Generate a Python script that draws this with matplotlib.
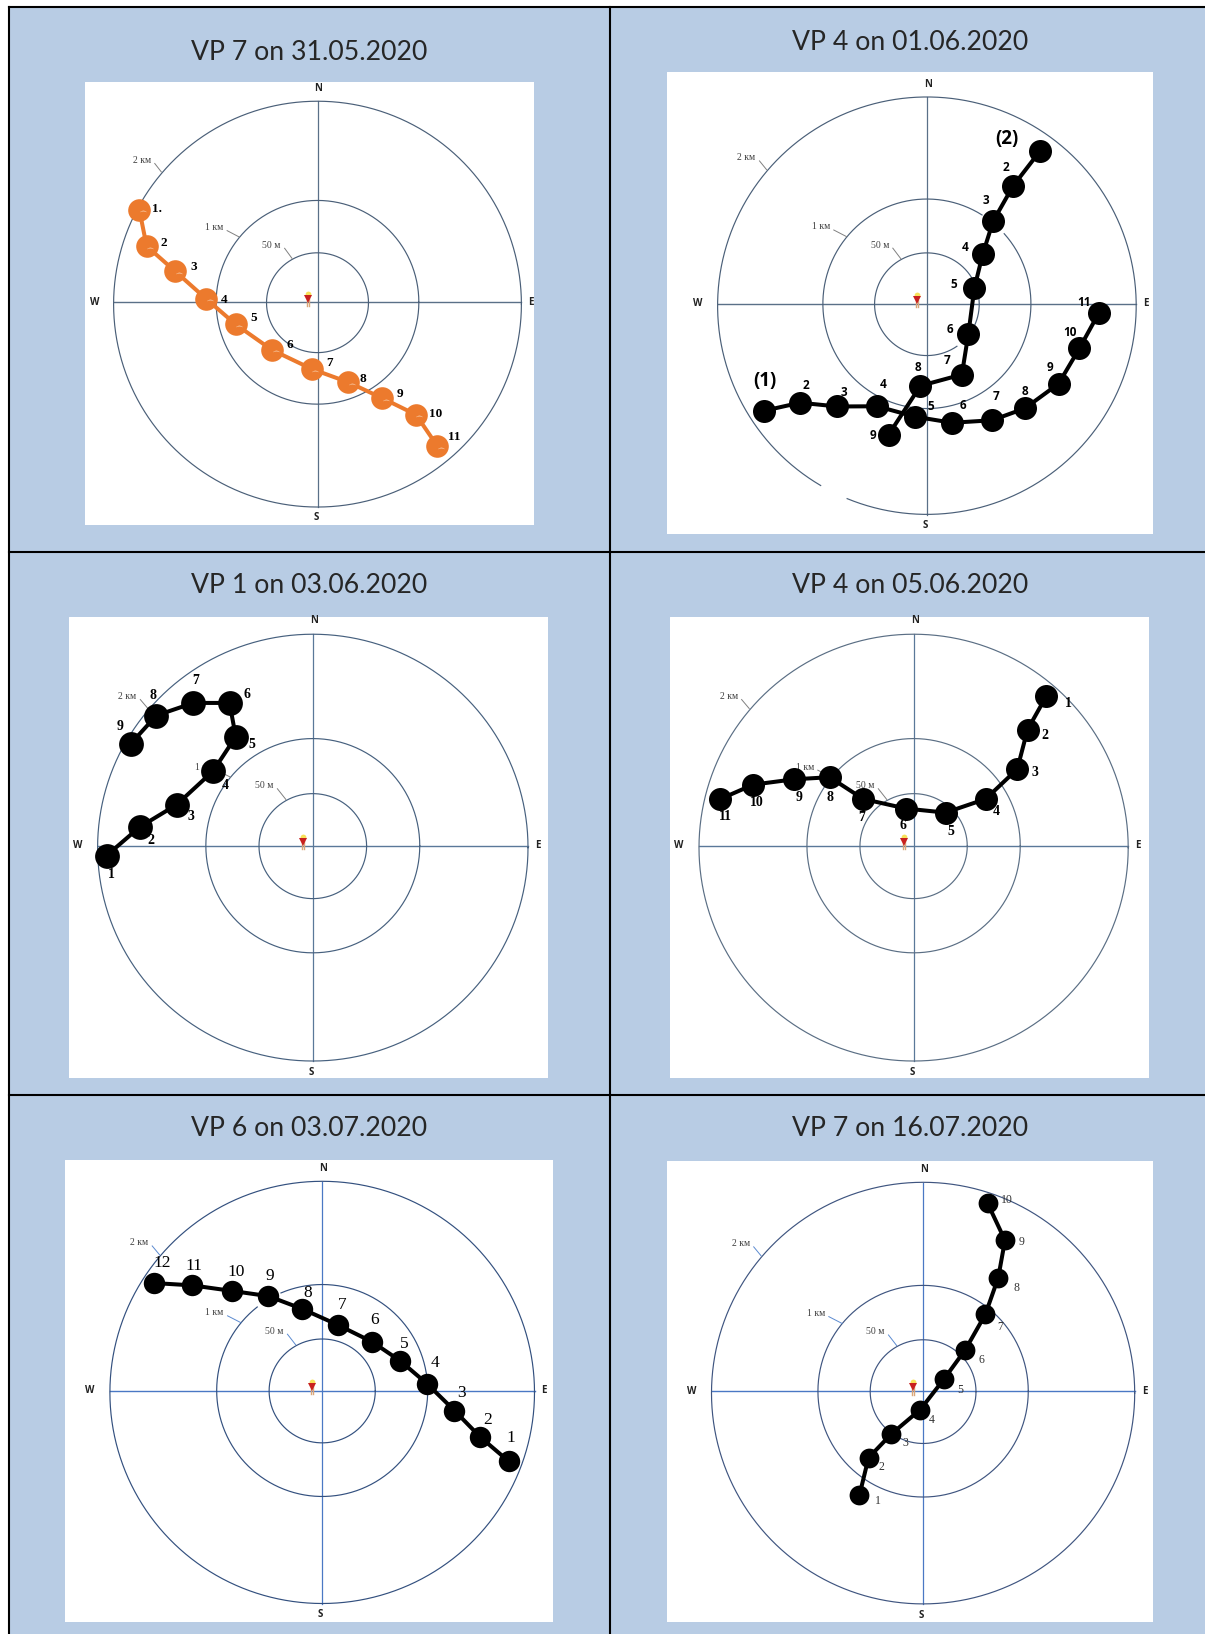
import numpy as np
import matplotlib.pyplot as plt
from matplotlib.patches import Rectangle
from matplotlib.lines import Line2D

W, H = 1205, 1634
BLUE = '#B8CCE4'
ORANGE = '#EC7A2D'

# Track positions, 2 km ring = 1, x to the east, y to the north
p1_x = [-0.874, -0.838, -0.697, -0.546, -0.401, -0.223, -0.027, 0.151, 0.317, 0.483, 0.588]
p1_y = [0.457, 0.277, 0.152, 0.017, -0.109, -0.235, -0.329, -0.394, -0.472, -0.554, -0.709]
p1_labels = ['1.', '2', '3', '4', '5', '6', '7', '8', '9', '10', '11']

p2a_x = [-0.780, -0.606, -0.428, -0.238, -0.056, 0.120, 0.312, 0.468, 0.629, 0.729, 0.821]
p2a_y = [-0.513, -0.474, -0.492, -0.491, -0.541, -0.570, -0.558, -0.501, -0.383, -0.213, -0.045]
p2a_labels = ['(1)', '2', '3', '4', '5', '6', '7', '8', '9', '10', '11']
p2b_x = [0.542, 0.412, 0.317, 0.267, 0.227, 0.198, 0.167, -0.031, -0.183]
p2b_y = [0.734, 0.565, 0.397, 0.239, 0.076, -0.145, -0.339, -0.393, -0.627]
p2b_labels = ['(2)', '2', '3', '4', '5', '6', '7', '8', '9']

p3_x = [-0.958, -0.805, -0.633, -0.463, -0.358, -0.387, -0.555, -0.727, -0.846]
p3_y = [-0.046, 0.087, 0.192, 0.350, 0.511, 0.669, 0.669, 0.610, 0.478]
p3_labels = ['1', '2', '3', '4', '5', '6', '7', '8', '9']

p4_x = [0.619, 0.531, 0.483, 0.336, 0.149, -0.035, -0.235, -0.391, -0.559, -0.748, -0.900]
p4_y = [0.702, 0.544, 0.359, 0.219, 0.155, 0.174, 0.219, 0.321, 0.311, 0.286, 0.219]
p4_labels = ['1', '2', '3', '4', '5', '6', '7', '8', '9', '10', '11']

p5_x = [0.878, 0.744, 0.623, 0.495, 0.368, 0.236, 0.073, -0.093, -0.253, -0.427, -0.612, -0.792]
p5_y = [-0.335, -0.220, -0.095, 0.031, 0.140, 0.230, 0.311, 0.386, 0.447, 0.472, 0.498, 0.509]
p5_labels = ['1', '2', '3', '4', '5', '6', '7', '8', '9', '10', '11', '12']

p6_x = [-0.301, -0.258, -0.151, -0.013, 0.099, 0.199, 0.294, 0.355, 0.387, 0.305]
p6_y = [-0.494, -0.316, -0.204, -0.087, 0.058, 0.196, 0.364, 0.538, 0.716, 0.891]
p6_labels = ['1', '2', '3', '4', '5', '6', '7', '8', '9', '10']

titles = ['VP 7 on 31.05.2020', 'VP 4 on 01.06.2020', 'VP 1 on 03.06.2020',
          'VP 4 on 05.06.2020', 'VP 6 on 03.07.2020', 'VP 7 on 16.07.2020']
ring_names = ['2 км', '1 км', '50 м']

# label offsets from the marker, pixels
p1_off = [(17.5, 0.4), (17.5, 3), (18.7, 4.6), (18.3, -1), (17.5, 6), (18, 5), (18, 6.3), (15, 3.5), (17.5, 3.9), (20, 0.7), (17, 8.8)]
p2a_off = [(0.8, 29.8), (6, 17.5), (7, 14.4), (6, 21.7), (15.6, 9.8), (11.4, 16.8), (3.4, 23.5), (-0.4, 16.5), (-9, 16.5), (-10, 16), (-15, 11)]
p2b_off = [(-33.4, 12), (-7, 18), (-7, 20), (-18, 6.7), (-20.5, 3), (-18.6, 5), (-15, 14.4), (-2.7, 18.6), (-15.6, -0.4)]
p3_off = [(5, -19), (11, -13.3), (14.4, -12), (12.5, -14), (16, -7.4), (17, 8.8), (2, 22), (-3, 19.6), (-10.5, 17.5)]
p4_off = [(22.4, -7.4), (17, -6.3), (18, -3), (10.6, -12.6), (5, -19), (-2.7, -16.8), (-1, -19), (0.8, -20), (5, -18), (3.8, -17.5), (4.6, -18)]
p5_off = [(2.3, 23), (7.4, 17.3), (7.4, 17.7), (7.4, 20.8), (4.3, 16.7), (2, 21.9), (4.7, 19.4), (5.4, 16.3), (1.6, 19.8), (5, 18.7), (2, 19.4), (8.6, 19.8)]
p6_off = [(18.6, -5.9), (13.3, -8.7), (14, -8.7), (11.8, -10.8), (16, -11.5), (16.7, -10), (14.8, -12.8), (18.2, -10), (16.7, -2), (19.7, 3.1)]

# white box (left, top, right, bottom), centre, outer radius in x and y, title position: all pixels
panels = [
    dict(box=(85, 82, 534, 525), c=(317.5, 302.3), r=(203.9, 202.9), t=(309, 52),
         tracks=[(p1_x, p1_y, p1_labels, p1_off)], color=ORANGE, ms=11.3, axis='#5A7088', ring='#4A5F78',
         lead='#808080', font=dict(family='Liberation Serif', weight='bold', size=9.5), gaps={}),
    dict(box=(667, 72, 1153, 534), c=(926.9, 303.8), r=(209.3, 208.7), t=(910, 42),
         tracks=[(p2a_x, p2a_y, p2a_labels, p2a_off), (p2b_x, p2b_y, p2b_labels, p2b_off)],
         color='black', ms=11.5, axis='#5A7088', ring='#4A5F78', lead='#808080',
         font=dict(family='Open Sans', weight='bold', size=8.5),
         gaps={0: (239.5, 247.6), 1: (42, 58), 2: (-55, -37)}),
    dict(box=(69, 617, 548, 1077.5), c=(312.8, 845.7), r=(215.2, 213.4), t=(309, 585),
         tracks=[(p3_x, p3_y, p3_labels, p3_off)], color='black', ms=12.4, axis='#5A7899', ring='#46607E',
         lead='#808080', font=dict(family='Liberation Serif', weight='bold', size=10), gaps={}),
    dict(box=(670, 617, 1149, 1077.5), c=(913.6, 845.7), r=(214.6, 213.4), t=(910, 585),
         tracks=[(p4_x, p4_y, p4_labels, p4_off)], color='black', ms=11.5, axis='#5A7899', ring='#5A6E84',
         lead='#808080', font=dict(family='Liberation Serif', weight='bold', size=10), gaps={}),
    dict(box=(65, 1160, 553, 1622), c=(322.2, 1390.5), r=(212.3, 211.1), t=(309, 1129),
         tracks=[(p5_x, p5_y, p5_labels, p5_off)], color='black', ms=10.7, axis='#4A78C4', ring='#33507F',
         lead='#5B8AD0', font=dict(family='Liberation Serif', weight='normal', size=12.5),
         gaps={1: (113, 128)}),
    dict(box=(667, 1161, 1153, 1622), c=(923.1, 1391.2), r=(211.6, 210.8), t=(910, 1129),
         tracks=[(p6_x, p6_y, p6_labels, p6_off)], color='black', ms=9.9, axis='#4A78C4', ring='#3F5580',
         lead='#5B8AD0', font=dict(family='Liberation Serif', weight='normal', size=8.5, color='#333333'),
         gaps={}),
]


def ring_line(ax, r_x, r_y, y0, color, gap=None):
    # one ring, left open where the source image has it erased
    start = gap[1] if gap else 0
    end = gap[0] + 360 if gap else 360
    th = np.radians(np.linspace(start, end, 361))
    ax.plot(r_x * np.cos(th), y0 + r_y * np.sin(th), color=color, lw=0.85, zorder=2)


def draw_panel(p):
    left, top, right, bottom = p['box']
    ax = fig.add_axes([left / W, 1 - bottom / H, (right - left) / W, (bottom - top) / H])
    cx, cy = p['c']
    rx, ry = p['r']
    ax.set_xlim((left - cx) / rx, (right - cx) / rx)
    ax.set_ylim((cy - bottom) / ry, (cy - top) / ry)
    ax.axis('off')
    ax.add_patch(Rectangle((0, 0), 1, 1, transform=ax.transAxes, color='white', zorder=0))

    ax.plot([-1, 1], [0, 0], color=p['axis'], lw=1.0, zorder=1)
    ax.plot([0, 0], [0.99, -1.01], color=p['axis'], lw=0.9, zorder=1)

    ring_line(ax, 1, 1, -0.009, p['ring'], p['gaps'].get(0))
    ring_line(ax, 0.497, 0.502, 0, p['ring'], p['gaps'].get(1))
    ring_line(ax, 0.25, 0.246, -0.002, p['ring'], p['gaps'].get(2))

    # ring names and their short leader lines
    for name, lx, ly, rad, ang in zip(ring_names, [-0.862, -0.507, -0.225], [0.699, 0.368, 0.281],
                                      [1, 0.5, 0.25], [140, 140, 120]):
        ax.text(lx, ly, name, family='Liberation Serif', fontsize=7, color='#404040',
                ha='center', va='center', zorder=3)
        ax.plot([lx + 13 / rx, rad * np.cos(np.radians(ang))], [ly - 3 / ry, rad * np.sin(np.radians(ang))],
                color=p['lead'], lw=0.7, zorder=3)

    # compass letters
    for name, x, y in [('N', 0.005, 1.053), ('S', -0.007, -1.062), ('W', -1.093, 0), ('E', 1.046, 0)]:
        ax.text(x, y, name, family='Open Sans', weight='bold', fontsize=7, color='#222222',
                ha='center', va='center', zorder=3)

    # observer figure
    ax.plot([-0.051, -0.051], [-0.016, 0.02], color='#D9A679', lw=1, zorder=3)
    ax.plot([-0.041, -0.041], [-0.016, 0.02], color='#D9A679', lw=1, zorder=3)
    ax.plot(-0.046, 0.042, 'o', color='#F7E15A', ms=4.2, mew=0, zorder=4)
    ax.plot(-0.046, 0.018, 'v', color='#C8201E', ms=6, mew=0, zorder=4)

    # tracks on top of everything
    for xs, ys, labels, offs in p['tracks']:
        ax.plot(xs, ys, '-', color=p['color'], lw=2.9, zorder=5, solid_capstyle='round')
        ax.plot(xs, ys, 'o', color=p['color'], ms=p['ms'] * 2 * 0.72, mew=0, zorder=6)
        if p['color'] == ORANGE:
            # small pale highlight on the orange balls
            ax.plot(np.array(xs) + 3.5 / rx, np.array(ys) - 1.5 / ry, marker='$\\frown$', ls='none',
                    color='#FDE8D2', ms=5, mew=0, zorder=7)
        for x, y, lab, off in zip(xs, ys, labels, offs):
            font = dict(p['font'])
            if lab.startswith('('):
                font['size'] = 13.5
                font['family'] = 'Open Sans'
                font['weight'] = 'bold'
            ax.annotate(lab, (x, y), xytext=off, textcoords='offset pixels', ha='center', va='center',
                        zorder=8, annotation_clip=False, **font)

    fig.text(p['t'][0] / W, 1 - p['t'][1] / H, p['title'], family='Lato', fontsize=19.2,
             color='#262626', ha='center', va='center')


fig = plt.figure(figsize=(W / 100, H / 100), dpi=100, facecolor='white')

# blue table background with black rules
fig.add_artist(Rectangle((9 / W, 0), 1 - 9 / W, 1 - 7 / H, transform=fig.transFigure, color=BLUE, lw=0, zorder=-5))
for x0, y0, x1, y1 in [(9, 7, W, 7), (9, 552, W, 552), (9, 1095, W, 1095), (9, 7, 9, H), (610, 7, 610, H)]:
    fig.add_artist(Line2D([x0 / W, x1 / W], [1 - y0 / H, 1 - y1 / H], transform=fig.transFigure,
                          color='black', lw=1.5, zorder=-4))

for panel, title in zip(panels, titles):
    panel['title'] = title
    draw_panel(panel)

fig.savefig('out.png', dpi=100, facecolor='white')
